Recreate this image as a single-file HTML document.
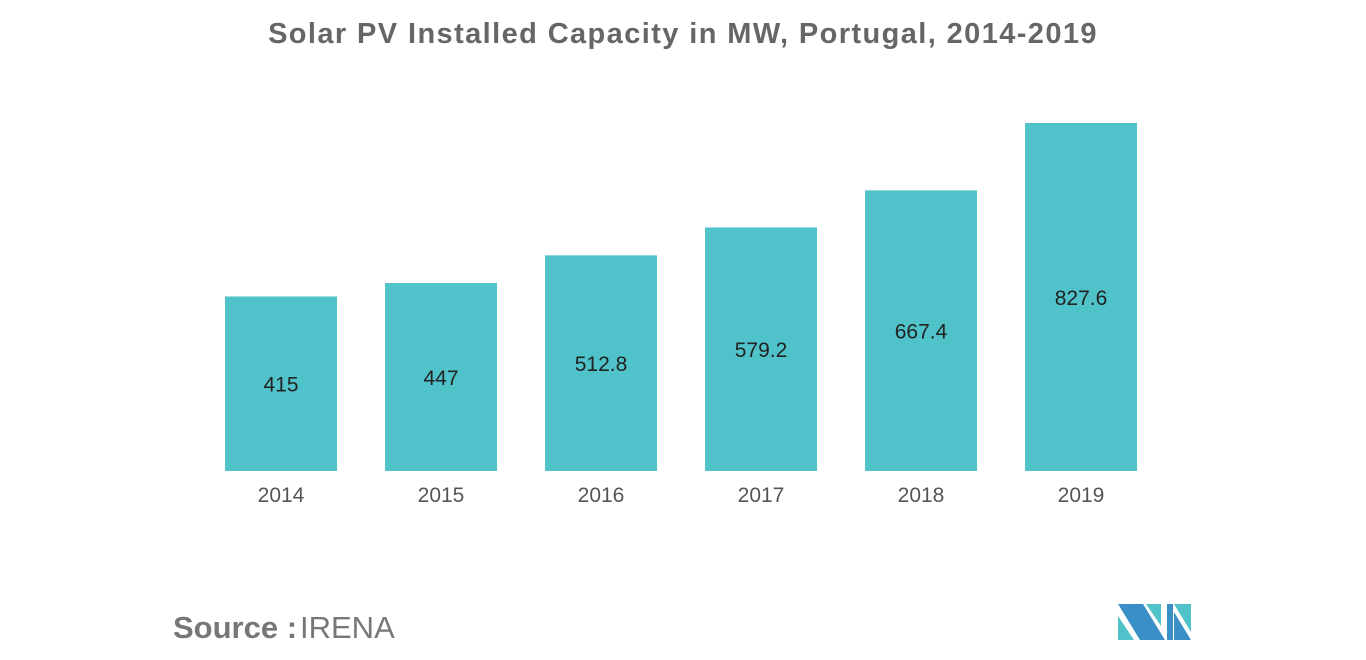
<!DOCTYPE html>
<html><head><meta charset="utf-8"><style>
body{margin:0;width:1366px;height:655px;background:#fff;overflow:hidden;font-family:"Liberation Sans",sans-serif}
</style></head><body>
<svg width="1366" height="655">
<text x="683" y="43" text-anchor="middle" font-size="29" font-weight="bold" fill="#666" letter-spacing="1.4">Solar PV Installed Capacity in MW, Portugal, 2014-2019</text>
<g id="bars"></g>
<text x="173" y="638" font-size="31" font-weight="bold" fill="#777">Source :</text>
<text x="300" y="638" font-size="31" fill="#777">IRENA</text>
<g>
<polygon points="1118,604 1143,604 1165,640 1140,640" fill="#3a8fc7"/>
<polygon points="1118,616 1134,640 1118,640" fill="#4fc3c9"/>
<polygon points="1146,604 1161,604 1161,626" fill="#4fc3c9"/>
<polygon points="1167,604 1173,604 1173,640 1167,640" fill="#3a8fc7"/>
<polygon points="1174,604 1191,604 1191,632" fill="#4fc3c9"/>
<polygon points="1174,612 1191,640 1174,640" fill="#3a8fc7"/>
</g>
</svg>
<script>
const categories=["2014","2015","2016","2017","2018","2019"];
const values=[415,447,512.8,579.2,667.4,827.6];
const labels=["415","447","512.8","579.2","667.4","827.6"];
const base=471,scale=348/827.6,x0=281,step=160,bw=112;
const y=v=>base-v*scale, x=i=>x0+i*step;
const g=document.getElementById('bars'),ns="http://www.w3.org/2000/svg";
categories.forEach((c,i)=>{
 const r=document.createElementNS(ns,'rect');
 
 
 r.setAttribute('x',x(i)-bw/2);r.setAttribute('y',y(values[i]));
 r.setAttribute('width',bw);r.setAttribute('height',base-y(values[i]));
 r.setAttribute('fill','#4fc3c9');g.appendChild(r);
 const t=document.createElementNS(ns,'text');
 
 
 t.setAttribute('x',x(i));t.setAttribute('y',(y(values[i])+base)/2+8);
 t.setAttribute('text-anchor','middle');t.setAttribute('font-size','21');t.setAttribute('fill','#222');
 t.textContent=labels[i];g.appendChild(t);
 const a=document.createElementNS(ns,'text');
 
 
 a.setAttribute('x',x(i));a.setAttribute('y',502);
 a.setAttribute('text-anchor','middle');a.setAttribute('font-size','21');a.setAttribute('fill','#555');
 a.textContent=c;g.appendChild(a);
});
</script>
</body></html>
